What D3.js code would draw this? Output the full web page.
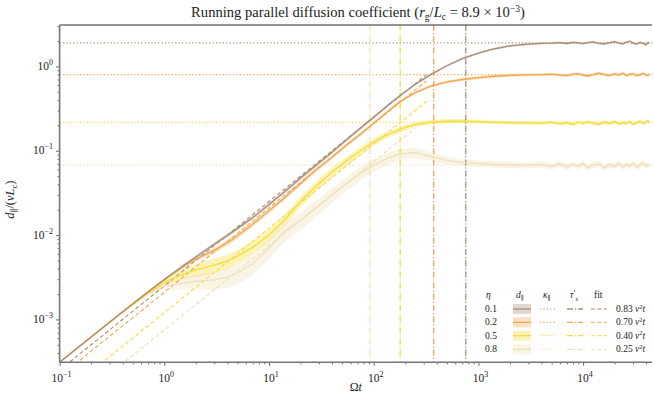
<!DOCTYPE html>
<html>
<head>
<meta charset="utf-8">
<script src="https://cdn.jsdelivr.net/npm/d3@7"></script>
<style>
  body { margin: 0; background: #fff; }
  svg { display: block; }
  text { font-family: "Liberation Serif", "DejaVu Serif", serif; fill: #222; }
</style>
</head>
<body>
<svg width="654" height="395"></svg>
<script>
// Ωt sample points shared by all series
const tGrid = [0.1, 0.2, 0.4, 0.7, 1, 1.5, 2, 3, 4, 5, 7, 10, 14, 20, 28, 40, 55, 75, 100, 140,
  180, 250, 350, 500, 700, 1000, 1400, 2000, 2800, 4000, 5000, 6000, 7000, 8000, 9000, 10000,
  11000, 12500, 14000, 16000, 18000, 20000, 22000, 24000, 26000, 28000, 30000, 32500, 35000,
  37500, 40000, 41500, 43000];

// d_par / (v Lc), one array per eta
const dEta01 = [3.1e-4, 6.2e-4, 1.23e-3, 2.13e-3, 2.98e-3, 4.3e-3, 5.5e-3, 7.8e-3, 9.9e-3, 1.2e-2,
  1.62e-2, 2.3e-2, 3.25e-2, 4.75e-2, 6.7e-2, 0.096, 0.135, 0.186, 0.25, 0.355, 0.455, 0.615, 0.80,
  1.02, 1.24, 1.44, 1.61, 1.75, 1.83, 1.88, 1.89, 1.92, 1.87, 1.93, 1.90, 1.86, 1.92, 1.95, 1.88,
  1.85, 1.92, 1.97, 1.89, 1.86, 1.94, 1.99, 1.89, 1.84, 1.93, 1.88, 1.80, 1.92, 1.90];
const dEta02 = [3.1e-4, 6.2e-4, 1.23e-3, 2.12e-3, 2.95e-3, 4.2e-3, 5.2e-3, 6.6e-3, 8.1e-3, 9.8e-3,
  1.35e-2, 1.95e-2, 2.75e-2, 4.1e-2, 5.9e-2, 0.084, 0.117, 0.158, 0.212, 0.30, 0.385, 0.49, 0.585,
  0.655, 0.70, 0.735, 0.765, 0.785, 0.795, 0.80, 0.81, 0.79, 0.78, 0.81, 0.82, 0.79, 0.77, 0.80,
  0.83, 0.80, 0.78, 0.82, 0.79, 0.83, 0.78, 0.81, 0.82, 0.78, 0.80, 0.83, 0.79, 0.78, 0.81];
const dEta05 = [3.1e-4, 6.2e-4, 1.22e-3, 2.05e-3, 2.75e-3, 3.45e-3, 3.85e-3, 4.4e-3, 4.9e-3, 5.6e-3,
  7.2e-3, 1.0e-2, 1.5e-2, 2.5e-2, 3.8e-2, 0.056, 0.076, 0.10, 0.128, 0.158, 0.18, 0.204, 0.218,
  0.224, 0.225, 0.222, 0.218, 0.215, 0.214, 0.213, 0.218, 0.208, 0.215, 0.205, 0.218, 0.211, 0.221,
  0.212, 0.206, 0.219, 0.210, 0.222, 0.208, 0.216, 0.211, 0.221, 0.206, 0.216, 0.224, 0.210, 0.219,
  0.228, 0.215];
const dEta08 = [3.1e-4, 6.2e-4, 1.22e-3, 2.05e-3, 2.5e-3, 2.7e-3, 2.85e-3, 2.95e-3, 3.2e-3, 3.55e-3,
  4.6e-3, 7.0e-3, 1.1e-2, 1.5e-2, 2.1e-2, 0.030, 0.041, 0.054, 0.068, 0.083, 0.092, 0.095, 0.086,
  0.077, 0.073, 0.071, 0.069, 0.068, 0.067, 0.069, 0.065, 0.070, 0.064, 0.069, 0.065, 0.071, 0.063,
  0.068, 0.070, 0.063, 0.069, 0.065, 0.071, 0.064, 0.069, 0.065, 0.071, 0.064, 0.068, 0.071, 0.065,
  0.069, 0.067];

// relative half-width of the shaded band
const sEta01 = [0.01, 0.01, 0.01, 0.02, 0.02, 0.03, 0.04, 0.05, 0.05, 0.05, 0.05, 0.05, 0.05, 0.05,
  0.05, 0.04, 0.04, 0.04, 0.04, 0.03, 0.03, 0.03, 0.03, 0.03, 0.03, 0.03, 0.03, 0.03, 0.03, 0.03,
  0.03, 0.03, 0.03, 0.03, 0.03, 0.03, 0.03, 0.03, 0.03, 0.03, 0.03, 0.03, 0.03, 0.03, 0.03, 0.03,
  0.03, 0.03, 0.03, 0.03, 0.03, 0.03, 0.03];
const sEta02 = [0.01, 0.01, 0.01, 0.02, 0.03, 0.05, 0.06, 0.07, 0.07, 0.07, 0.07, 0.07, 0.06, 0.06,
  0.06, 0.05, 0.05, 0.05, 0.05, 0.04, 0.04, 0.04, 0.04, 0.04, 0.04, 0.04, 0.04, 0.04, 0.04, 0.04,
  0.04, 0.04, 0.04, 0.04, 0.04, 0.04, 0.04, 0.04, 0.04, 0.04, 0.04, 0.04, 0.04, 0.04, 0.04, 0.04,
  0.04, 0.04, 0.04, 0.04, 0.04, 0.04, 0.04];
const sEta05 = [0.01, 0.01, 0.02, 0.04, 0.08, 0.14, 0.18, 0.2, 0.2, 0.19, 0.18, 0.17, 0.16, 0.15,
  0.14, 0.13, 0.12, 0.11, 0.1, 0.09, 0.08, 0.07, 0.06, 0.06, 0.06, 0.05, 0.05, 0.05, 0.05, 0.05,
  0.05, 0.05, 0.05, 0.05, 0.05, 0.05, 0.05, 0.05, 0.05, 0.05, 0.05, 0.05, 0.05, 0.05, 0.05, 0.05,
  0.05, 0.05, 0.05, 0.05, 0.05, 0.05, 0.05];
const sEta08 = [0.01, 0.01, 0.02, 0.05, 0.1, 0.16, 0.2, 0.24, 0.26, 0.27, 0.27, 0.26, 0.25, 0.24,
  0.22, 0.2, 0.19, 0.18, 0.17, 0.16, 0.15, 0.14, 0.12, 0.1, 0.09, 0.09, 0.08, 0.08, 0.08, 0.08,
  0.08, 0.08, 0.08, 0.08, 0.08, 0.08, 0.08, 0.08, 0.08, 0.08, 0.08, 0.08, 0.08, 0.08, 0.08, 0.08,
  0.08, 0.08, 0.08, 0.08, 0.08, 0.08, 0.08];

const etaLabels = ["0.1", "0.2", "0.5", "0.8"];
const colors = ["#a88f76", "#f0a854", "#f6dc38", "#efe0b4"];
const kappaPar = [1.90, 0.80, 0.217, 0.0677];      // plateau values (dotted)
const tauS = [757, 374, 179, 92];                   // Ωτ'_s (dash-dot verticals)
const fitCoef = ["0.83", "0.70", "0.40", "0.25"];
// fit lines: [Ωt, d] end points
const fitLines = [
  [[0.1, 2.5e-4], [320, 0.80]],
  [[0.1, 2.1e-4], [320, 0.675]],
  [[0.1, 1.2e-4], [320, 0.386]],
  [[0.1, 7.5e-5], [250, 0.186]]
];
const xMajor = [0.1, 1, 10, 100, 1000, 10000];
const xExp = ["−1", "0", "1", "2", "3", "4"];
const yMajor = [1e-3, 1e-2, 1e-1, 1];
const yExp = ["−3", "−2", "−1", "0"];

const dSeries = [dEta01, dEta02, dEta05, dEta08];
const sSeries = [sEta01, sEta02, sEta05, sEta08];

const svg = d3.select("svg");
const area = { left: 59.6, right: 652, top: 25, bottom: 362.3 };

const x = d3.scaleLog().domain([0.1, 45500]).range([area.left, area.right]);
const y = d3.scaleLog().domain([3.1e-4, 3.1]).range([area.bottom, area.top]);

svg.append("defs").append("clipPath").attr("id", "clip")
  .append("rect")
  .attr("x", area.left).attr("y", area.top)
  .attr("width", area.right - area.left).attr("height", area.bottom - area.top);

const plot = svg.append("g").attr("clip-path", "url(#clip)");

// shaded bands
dSeries.forEach((vals, i) => {
  const pts = tGrid.map((t, k) => [t, vals[k], sSeries[i][k]]);
  plot.append("path")
    .datum(pts)
    .attr("d", d3.area()
      .x(d => x(d[0]))
      .y0(d => y(d[1] * (1 - d[2])))
      .y1(d => y(d[1] * (1 + d[2]))))
    .attr("fill", colors[i])
    .attr("fill-opacity", 0.35);
});

// kappa (dotted horizontal) and tau'_s (dash-dot vertical)
kappaPar.forEach((k, i) => {
  plot.append("line")
    .attr("x1", area.left).attr("x2", area.right)
    .attr("y1", y(k)).attr("y2", y(k))
    .attr("stroke", colors[i]).attr("stroke-width", 1.2)
    .attr("stroke-dasharray", "1.2,2.2");
});
tauS.forEach((t, i) => {
  plot.append("line")
    .attr("x1", x(t)).attr("x2", x(t))
    .attr("y1", area.top).attr("y2", area.bottom)
    .attr("stroke", colors[i]).attr("stroke-width", 1.3)
    .attr("stroke-dasharray", "6,2,1.2,2");
});

const line = d3.line().x(d => x(d[0])).y(d => y(d[1]));

// fits
fitLines.forEach((pts, i) => {
  plot.append("path")
    .attr("d", line(pts))
    .attr("fill", "none")
    .attr("stroke", colors[i]).attr("stroke-width", 1.1)
    .attr("stroke-dasharray", "4,2.5");
});

// d_par curves (draw light first so dark ends on top)
[3, 2, 1, 0].forEach(i => {
  plot.append("path")
    .datum(tGrid.map((t, k) => [t, dSeries[i][k]]))
    .attr("d", line)
    .attr("fill", "none")
    .attr("stroke", colors[i]).attr("stroke-width", 1.3);
});

// axes
function xMinor() {
  const v = [];
  for (let e = -1; e <= 4; e++) for (let m = 2; m <= 9; m++) {
    const t = m * Math.pow(10, e);
    if (t <= 45500) v.push(t);
  }
  return v;
}
function yMinor() {
  const v = [];
  for (let e = -4; e <= 0; e++) for (let m = 2; m <= 9; m++) {
    const t = m * Math.pow(10, e);
    if (t >= 3.1e-4 && t <= 3.1) v.push(t);
  }
  return v;
}

const axisColor = "#555";
const gx = svg.append("g").attr("transform", `translate(0,${area.bottom})`);
gx.call(d3.axisBottom(x).tickValues(xMajor).tickFormat("").tickSize(3.5).tickSizeOuter(0));
gx.append("g").call(d3.axisBottom(x).tickValues(xMinor()).tickFormat("").tickSize(2).tickSizeOuter(0));
const gy = svg.append("g").attr("transform", `translate(${area.left},0)`);
gy.call(d3.axisLeft(y).tickValues(yMajor).tickFormat("").tickSize(3.5).tickSizeOuter(0));
gy.append("g").call(d3.axisLeft(y).tickValues(yMinor()).tickFormat("").tickSize(2).tickSizeOuter(0));
svg.selectAll(".tick line").attr("stroke", axisColor).attr("stroke-width", 0.9);
svg.selectAll(".domain").remove();

// spines
svg.append("line").attr("x1", area.left).attr("x2", area.right)
  .attr("y1", area.top).attr("y2", area.top).attr("stroke", "#111").attr("stroke-width", 0.9);
svg.append("line").attr("x1", area.left).attr("x2", area.right)
  .attr("y1", area.bottom).attr("y2", area.bottom).attr("stroke", "#777").attr("stroke-width", 1.6);
svg.append("line").attr("x1", area.left).attr("x2", area.left)
  .attr("y1", area.top).attr("y2", area.bottom).attr("stroke", "#777").attr("stroke-width", 1.6);

function powLabel(sel, exp) {
  sel.append("tspan").text("10");
  sel.append("tspan").attr("dy", -5).attr("font-size", 8).text(exp);
}
xMajor.forEach((t, i) => {
  svg.append("text").attr("x", x(t) + 2).attr("y", 382).attr("text-anchor", "middle")
    .attr("font-size", 11.5).call(powLabel, xExp[i]);
});
yMajor.forEach((v, i) => {
  svg.append("text").attr("x", 53).attr("y", y(v) + 3.5).attr("text-anchor", "end")
    .attr("font-size", 11.5).call(powLabel, yExp[i]);
});

// axis titles
const xt = svg.append("text").attr("x", (area.left + area.right) / 2).attr("y", 391)
  .attr("text-anchor", "middle").attr("font-size", 12);
xt.append("tspan").text("Ω");
xt.append("tspan").attr("font-style", "italic").text("t");

const yt = svg.append("text").attr("transform", `translate(14,${(area.top + area.bottom) / 2 + 6}) rotate(-90)`)
  .attr("text-anchor", "middle").attr("font-size", 12.5);
yt.append("tspan").attr("font-style", "italic").text("d");
yt.append("tspan").attr("dy", 2.5).attr("font-size", 8.5).text("∥");
yt.append("tspan").attr("dy", -2.5).text("/(");
yt.append("tspan").attr("font-style", "italic").text("vL");
yt.append("tspan").attr("dy", 2.5).attr("font-size", 8.5).text("c");
yt.append("tspan").attr("dy", -2.5).text(")");

// title
const tt = svg.append("text").attr("x", 358).attr("y", 17).attr("text-anchor", "middle")
  .attr("font-size", 14.6);
tt.append("tspan").text("Running parallel diffusion coefficient (");
tt.append("tspan").attr("font-style", "italic").text("r");
tt.append("tspan").attr("dy", 2.5).attr("font-size", 9.5).text("g");
tt.append("tspan").attr("dy", -2.5).text("/");
tt.append("tspan").attr("font-style", "italic").text("L");
tt.append("tspan").attr("dy", 2.5).attr("font-size", 9.5).text("c");
tt.append("tspan").attr("dy", -2.5).text(" = 8.9 × 10");
tt.append("tspan").attr("dy", -5.5).attr("font-size", 9.5).text("−3");
tt.append("tspan").attr("dy", 5.5).text(")");

// legend
const lg = svg.append("g").attr("font-size", 9.5);
const colX = { eta: 486, d: 513, k: 540, tau: 567, fit: 591, lab: 616 };
const rowY = [309, 322.3, 335.7, 349.3];
const headY = 298;
lg.append("text").attr("x", colX.eta).attr("y", headY).attr("font-style", "italic").text("η");
const hd = lg.append("text").attr("x", colX.d + 3).attr("y", headY);
hd.append("tspan").attr("font-style", "italic").text("d");
hd.append("tspan").attr("dy", 2).attr("font-size", 6.5).text("∥");
const hk = lg.append("text").attr("x", colX.k + 3).attr("y", headY);
hk.append("tspan").attr("font-style", "italic").text("κ");
hk.append("tspan").attr("dy", 2).attr("font-size", 6.5).text("∥");
const ht = lg.append("text").attr("x", colX.tau + 3).attr("y", headY);
ht.append("tspan").attr("font-style", "italic").text("τ");
ht.append("tspan").attr("dy", -2).attr("font-size", 9).text("′");
ht.append("tspan").attr("dy", 4.5).attr("font-size", 6.5).attr("font-style", "italic").text("s");
lg.append("text").attr("x", colX.fit + 3).attr("y", headY).text("fit");

etaLabels.forEach((e, i) => {
  const yy = rowY[i];
  lg.append("text").attr("x", colX.eta - 1).attr("y", yy + 3).text(e);
  lg.append("rect").attr("x", colX.d).attr("y", yy - 5).attr("width", 18).attr("height", 10)
    .attr("fill", colors[i]).attr("fill-opacity", 0.35);
  lg.append("line").attr("x1", colX.d).attr("x2", colX.d + 18).attr("y1", yy).attr("y2", yy)
    .attr("stroke", colors[i]).attr("stroke-width", 1.3);
  lg.append("line").attr("x1", colX.k).attr("x2", colX.k + 16).attr("y1", yy).attr("y2", yy)
    .attr("stroke", colors[i]).attr("stroke-width", 1.2).attr("stroke-dasharray", "1.2,2.2");
  lg.append("line").attr("x1", colX.tau).attr("x2", colX.tau + 16).attr("y1", yy).attr("y2", yy)
    .attr("stroke", colors[i]).attr("stroke-width", 1.3).attr("stroke-dasharray", "6,2,1.2,2");
  lg.append("line").attr("x1", colX.fit).attr("x2", colX.fit + 16).attr("y1", yy).attr("y2", yy)
    .attr("stroke", colors[i]).attr("stroke-width", 1.1).attr("stroke-dasharray", "4,2.5");
  const fl = lg.append("text").attr("x", colX.lab).attr("y", yy + 3);
  fl.append("tspan").text(fitCoef[i] + " ");
  fl.append("tspan").attr("font-style", "italic").text("v");
  fl.append("tspan").attr("dy", -3.5).attr("font-size", 6.5).text("2");
  fl.append("tspan").attr("dy", 3.5).attr("font-style", "italic").text("t");
});
</script>
</body>
</html>
